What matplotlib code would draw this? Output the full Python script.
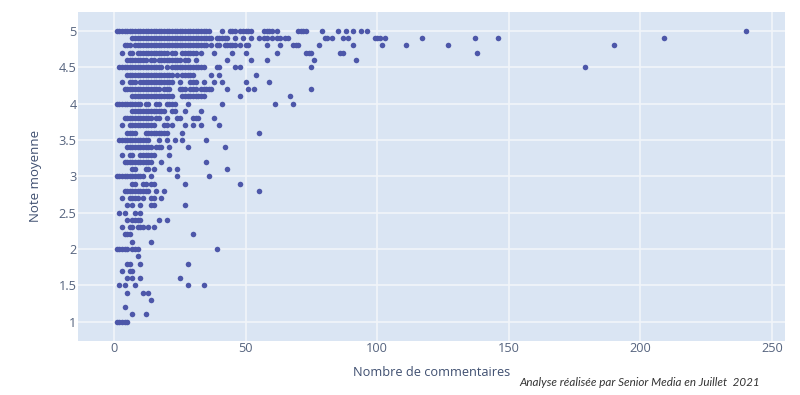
import matplotlib
matplotlib.use("Agg")
import matplotlib.pyplot as plt

# nombre de commentaires, une liste par note moyenne
n50 = [1,2,3,4,5,6,7,8,9,10,11,12,13,14,15,16,17,18,19,20,21,22,23,24,25,26,27,28,29,30,31,32,33,34,35,36,41,44,45,46,48,49,50,51,52,57,58,59,60,62,70,71,72,73,79,85,88,91,94,96,240]
n49 = [7,8,9,10,11,12,13,14,15,16,17,18,19,20,21,22,23,24,25,26,27,28,29,30,31,32,33,34,35,36,37,39,40,41,42,43,46,49,52,55,57,58,60,62,63,65,66,80,81,83,87,89,99,100,101,103,117,137,146,209]
n48 = [4,5,6,8,9,10,11,12,13,14,15,16,17,18,19,20,21,22,23,24,25,26,27,28,29,30,31,32,33,34,35,37,39,40,42,43,44,45,46,48,50,51,58,63,68,69,70,78,91,102,111,127,190]
n47 = [3,6,7,9,10,11,12,13,14,15,16,17,18,19,20,22,23,26,27,28,29,30,31,33,38,45,50,62,73,74,75,86,87,138]
n46 = [5,6,7,8,9,10,11,12,14,15,17,18,19,20,21,22,23,24,25,27,28,31,43,52,58,76,92]
n45 = [2,3,4,5,6,7,8,9,10,11,12,13,14,15,16,17,18,20,22,23,24,25,26,27,28,29,30,31,32,33,34,39,40,46,48,75,179]
n44 = [5,6,7,8,9,10,11,12,13,14,15,16,17,18,19,20,21,22,24,26,27,28,29,30,37,40,54]
n43 = [3,6,7,8,10,11,12,13,14,15,16,17,18,19,20,21,22,25,29,30,31,34,38,41,50,59]
n42 = [4,5,6,7,8,9,10,11,12,13,14,15,16,17,19,20,21,25,26,27,29,30,31,33,34,35,36,37,43,51,53,75]
n41 = [7,8,9,10,11,12,13,14,15,16,17,18,19,20,21,22,26,27,28,29,30,31,32,33,34,48,67]
n40 = [1,2,3,4,5,6,7,8,9,10,12,13,16,17,20,21,22,23,28,41,61,68]
n39 = [7,8,9,10,11,12,13,14,15,16,17,18,19,22,23,27,33]
n38 = [4,5,6,7,8,9,10,11,12,13,14,16,17,20,24,25,30,31,32,38]
n37 = [3,6,7,8,9,10,11,12,13,14,15,19,20,22,27,30,33,40]
n36 = [5,6,7,8,12,13,14,15,16,17,18,19,20,26,55]
n35 = [2,3,4,5,6,7,8,9,10,11,12,13,17,20,23,26,35]
n34 = [5,6,7,8,9,10,11,12,13,14,16,17,18,21,28,42]
n33 = [3,6,7,10,11,12,13,14,15,21]
n32 = [4,5,6,7,8,9,10,11,12,13,14,18,35]
n31 = [7,8,12,13,15,21,24,43]
n30 = [1,2,3,4,5,6,7,8,9,10,11,14,24,36]
n29 = [7,8,11,12,14,15,27,48]
n28 = [4,5,6,7,8,9,10,11,12,13,16,19,55]
n27 = [3,6,7,8,9,11,14,15,18]
n26 = [5,7,10,14,15,27]
n25 = [2,4,8,10]
n24 = [5,7,8,9,10,17,20]
n23 = [3,6,7,9,10,11,13,15]
n22 = [4,5,6,30]
n21 = [7,14]
n20 = [1,2,3,4,5,7,8,9,39]
n19 = [9]
n18 = [5,6,10,28]
n17 = [3,6,7]
n16 = [5,7,10,25]
n15 = [2,4,8,28,34]
n14 = [5,11,13]
n13 = [14]
n12 = [4]
n11 = [7,12]
n10 = [1,2,3,4,5]

notes = [5.0,4.9,4.8,4.7,4.6,4.5,4.4,4.3,4.2,4.1,4.0,3.9,3.8,3.7,3.6,3.5,3.4,3.3,3.2,3.1,3.0,
         2.9,2.8,2.7,2.6,2.5,2.4,2.3,2.2,2.1,2.0,1.9,1.8,1.7,1.6,1.5,1.4,1.3,1.2,1.1,1.0]
lignes = [n50,n49,n48,n47,n46,n45,n44,n43,n42,n41,n40,n39,n38,n37,n36,n35,n34,n33,n32,n31,n30,
          n29,n28,n27,n26,n25,n24,n23,n22,n21,n20,n19,n18,n17,n16,n15,n14,n13,n12,n11,n10]

x_ticks = [0,50,100,150,200,250]
y_ticks = [1,1.5,2,2.5,3,3.5,4,4.5,5]
y_labels = ["1","1.5","2","2.5","3","3.5","4","4.5","5"]

plt.rcParams["font.family"] = ["Open Sans", "DejaVu Sans"]
texte = "#56647f"

f = plt.figure(figsize=(8,3.95), dpi=100)
ax = f.add_axes([78/800, 1-341/395, (785-78)/800, (341-12)/395])
ax.set_facecolor("#dae5f3")

for note, ligne in zip(notes, lignes):
    ax.scatter(ligne, [note]*len(ligne), s=16, color="#4d57a9", linewidths=0, zorder=3)

ax.set_xlim(-13.7, 255)
ax.set_ylim(0.735, 5.26)
ax.set_xticks(x_ticks)
ax.set_yticks(y_ticks)
ax.set_yticklabels(y_labels)
ax.grid(color="#f1f5fa", linewidth=1.2, zorder=1)
ax.set_axisbelow(True)
for s in ax.spines.values():
    s.set_visible(False)
ax.tick_params(length=0, labelsize=9.2, labelcolor=texte)
ax.tick_params(axis="x", pad=1)
ax.tick_params(axis="y", pad=1)

f.text(432/800, 1-372/395, "Nombre de commentaires", color="#3f4f70", fontsize=9.2, ha="center", va="center")
f.text(36/800, 1-176/395, "Note moyenne", color="#3f4f70", fontsize=9.5, rotation=90, ha="center", va="center")
f.text(640/800, 1-383/395, "Analyse réalisée par Senior Media en Juillet  2021", color="#333333",
       fontsize=8.4, style="italic", family=["Lato","DejaVu Sans"], ha="center", va="center")

plt.savefig("out.png", dpi=100)
